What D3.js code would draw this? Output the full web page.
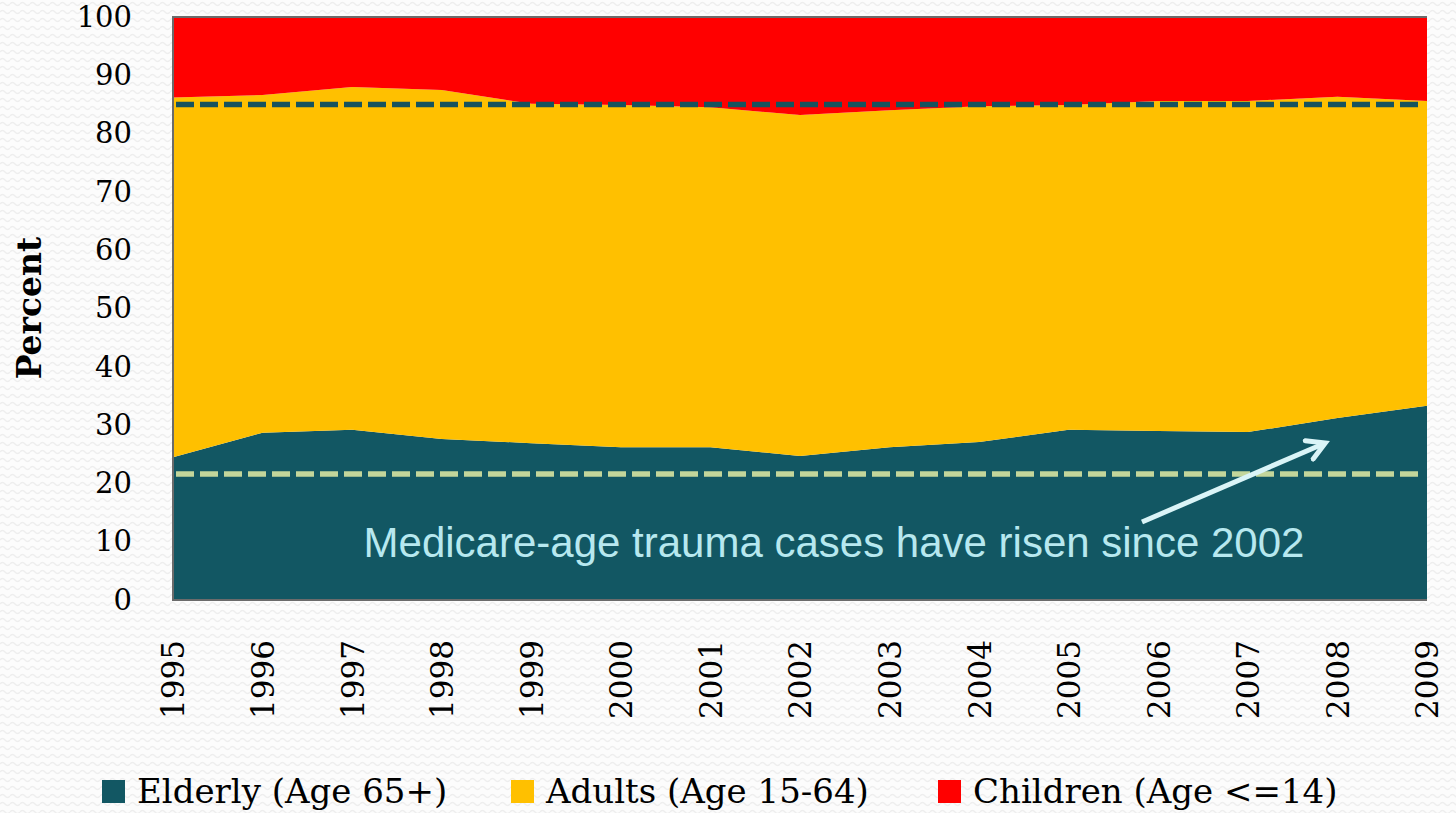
<!DOCTYPE html>
<html>
<head>
<meta charset="utf-8">
<script src="https://cdn.jsdelivr.net/npm/d3@7"></script>
<style>
  body { margin: 0; background: #fff; }
  svg { display: block; }
</style>
</head>
<body>
<svg id="chart"></svg>
<script>
// data
var years = [1995, 1996, 1997, 1998, 1999, 2000, 2001, 2002, 2003, 2004, 2005, 2006, 2007, 2008, 2009];
var elderly = [24.5, 28.7, 29.2, 27.6, 26.9, 26.2, 26.2, 24.7, 26.2, 27.1, 29.2, 29.0, 28.8, 31.2, 33.3];
var adults  = [61.7, 57.9, 58.8, 59.9, 58.2, 58.7, 58.3, 58.5, 57.8, 57.6, 55.7, 56.6, 56.8, 55.1, 52.3];
var children = [13.8, 13.4, 12.0, 12.5, 14.9, 15.1, 15.5, 16.8, 16.0, 15.3, 15.1, 14.4, 14.4, 13.7, 14.4];
var yTicks = [0, 10, 20, 30, 40, 50, 60, 70, 80, 90, 100];
var seriesNames = ["Elderly (Age 65+)", "Adults (Age 15-64)", "Children (Age <=14)"];
var refLines = [85, 21.6];  // dashed guide lines
var note = "Medicare-age trauma cases have risen since 2002";

var w = 1456, h = 813;
var margin = {top: 17, right: 29, bottom: 213, left: 173};
var serif = "'DejaVu Serif', serif";

var svg = d3.select("#chart").attr("width", w).attr("height", h);

// faint wavy background
var defs = svg.append("defs");
var pat = defs.append("pattern")
    .attr("id", "waves")
    .attr("width", 10).attr("height", 8)
    .attr("patternUnits", "userSpaceOnUse");
pat.append("path")
    .attr("d", "M0,4 Q2.5,1 5,4 T10,4")
    .attr("fill", "none")
    .attr("stroke", "#eeeeee")
    .attr("stroke-width", 1.4);
svg.append("rect").attr("width", w).attr("height", h).attr("fill", "#fcfcfc");
svg.append("rect").attr("width", w).attr("height", h).attr("fill", "url(#waves)");

var x = d3.scaleLinear()
    .domain(d3.extent(years))
    .range([margin.left, w - margin.right]);
var y = d3.scaleLinear()
    .domain([0, 100])
    .range([h - margin.bottom, margin.top]);

var rows = years.map(function(yr, i) {
  return {year: yr, e: elderly[i], a: adults[i], c: children[i]};
});
var stack = d3.stack().keys(["e", "a", "c"]).offset(d3.stackOffsetExpand);
var layers = stack(rows);
var colors = ["#125763", "#ffc000", "#ff0000"];

var area = d3.area()
    .x(function(d) { return x(d.data.year); })
    .y0(function(d) { return y(d[0] * 100); })
    .y1(function(d) { return y(d[1] * 100); });

svg.append("g")
  .selectAll("path")
  .data(layers)
  .enter()
  .append("path")
    .attr("d", area)
    .attr("fill", function(d, i) { return colors[i]; });

// dashed guides
svg.append("g")
  .selectAll("line")
  .data(refLines)
  .enter()
  .append("line")
    .attr("x1", x(1995) + 3)
    .attr("x2", x(2009) - 6)
    .attr("y1", function(d) { return y(d); })
    .attr("y2", function(d) { return y(d); })
    .attr("stroke", function(d, i) { return i == 0 ? "#16535e" : "#c3d69b"; })
    .attr("stroke-width", 5.5)
    .attr("stroke-dasharray", "18,6");

// plot frame (left, top, bottom)
svg.append("path")
    .attr("d", "M" + x(2009) + "," + y(100) + "H" + x(1995) + "V" + y(0) + "H" + x(2009))
    .attr("fill", "none")
    .attr("stroke", "#6b6b6b")
    .attr("stroke-width", 2);

// y axis
var yAxis = svg.append("g")
    .attr("transform", "translate(" + (margin.left - 41) + ",0)")
    .call(d3.axisLeft(y).tickValues(yTicks).tickSize(0).tickPadding(0));
yAxis.select(".domain").remove();
yAxis.selectAll("text")
    .style("font-family", serif)
    .style("font-size", "29px")
    .attr("fill", "#000");

// x axis, vertical labels
var xAxis = svg.append("g")
    .attr("transform", "translate(0," + y(0) + ")")
    .call(d3.axisBottom(x).tickValues(years).tickFormat(d3.format("d")).tickSize(0));
xAxis.select(".domain").remove();
xAxis.selectAll("text")
    .style("font-family", serif)
    .style("font-size", "31px")
    .attr("fill", "#000")
    .attr("text-anchor", "end")
    .attr("dy", "0.35em")
    .attr("transform", "translate(0,40) rotate(-90)")
    .attr("y", 0)
    .attr("x", 0);

// y title
svg.append("text")
    .attr("transform", "translate(41,308) rotate(-90)")
    .attr("text-anchor", "middle")
    .style("font-family", serif)
    .style("font-weight", "bold")
    .style("font-size", "33px")
    .text("Percent");

// annotation
svg.append("text")
    .attr("x", 834)
    .attr("y", 557)
    .attr("text-anchor", "middle")
    .style("font-family", "'Liberation Sans', Arial, sans-serif")
    .style("font-size", "42px")
    .attr("fill", "#b7e8ef")
    .text(note);

defs.append("marker")
    .attr("id", "head")
    .attr("viewBox", "0 0 10 10")
    .attr("refX", 7).attr("refY", 5)
    .attr("markerWidth", 5).attr("markerHeight", 5)
    .attr("orient", "auto")
  .append("path")
    .attr("d", "M1,1 L8,5 L1,9")
    .attr("fill", "none")
    .attr("stroke", "#daf4f7")
    .attr("stroke-width", 2)
    .attr("stroke-linecap", "round");

svg.append("line")
    .attr("x1", 1142).attr("y1", 522)
    .attr("x2", 1323).attr("y2", 444)
    .attr("stroke", "#daf4f7")
    .attr("stroke-width", 5)
    .attr("marker-end", "url(#head)");

// legend
var legendX = [102, 511, 938];
var legend = svg.append("g")
  .selectAll("g")
  .data(seriesNames)
  .enter()
  .append("g")
    .attr("transform", function(d, i) { return "translate(" + legendX[i] + ",780)"; });
legend.append("rect")
    .attr("width", 23).attr("height", 23)
    .attr("fill", function(d, i) { return colors[i]; });
legend.append("text")
    .attr("x", 35)
    .attr("y", 23)
    .style("font-family", serif)
    .style("font-size", "34px")
    .text(function(d) { return d; });
</script>
</body>
</html>
